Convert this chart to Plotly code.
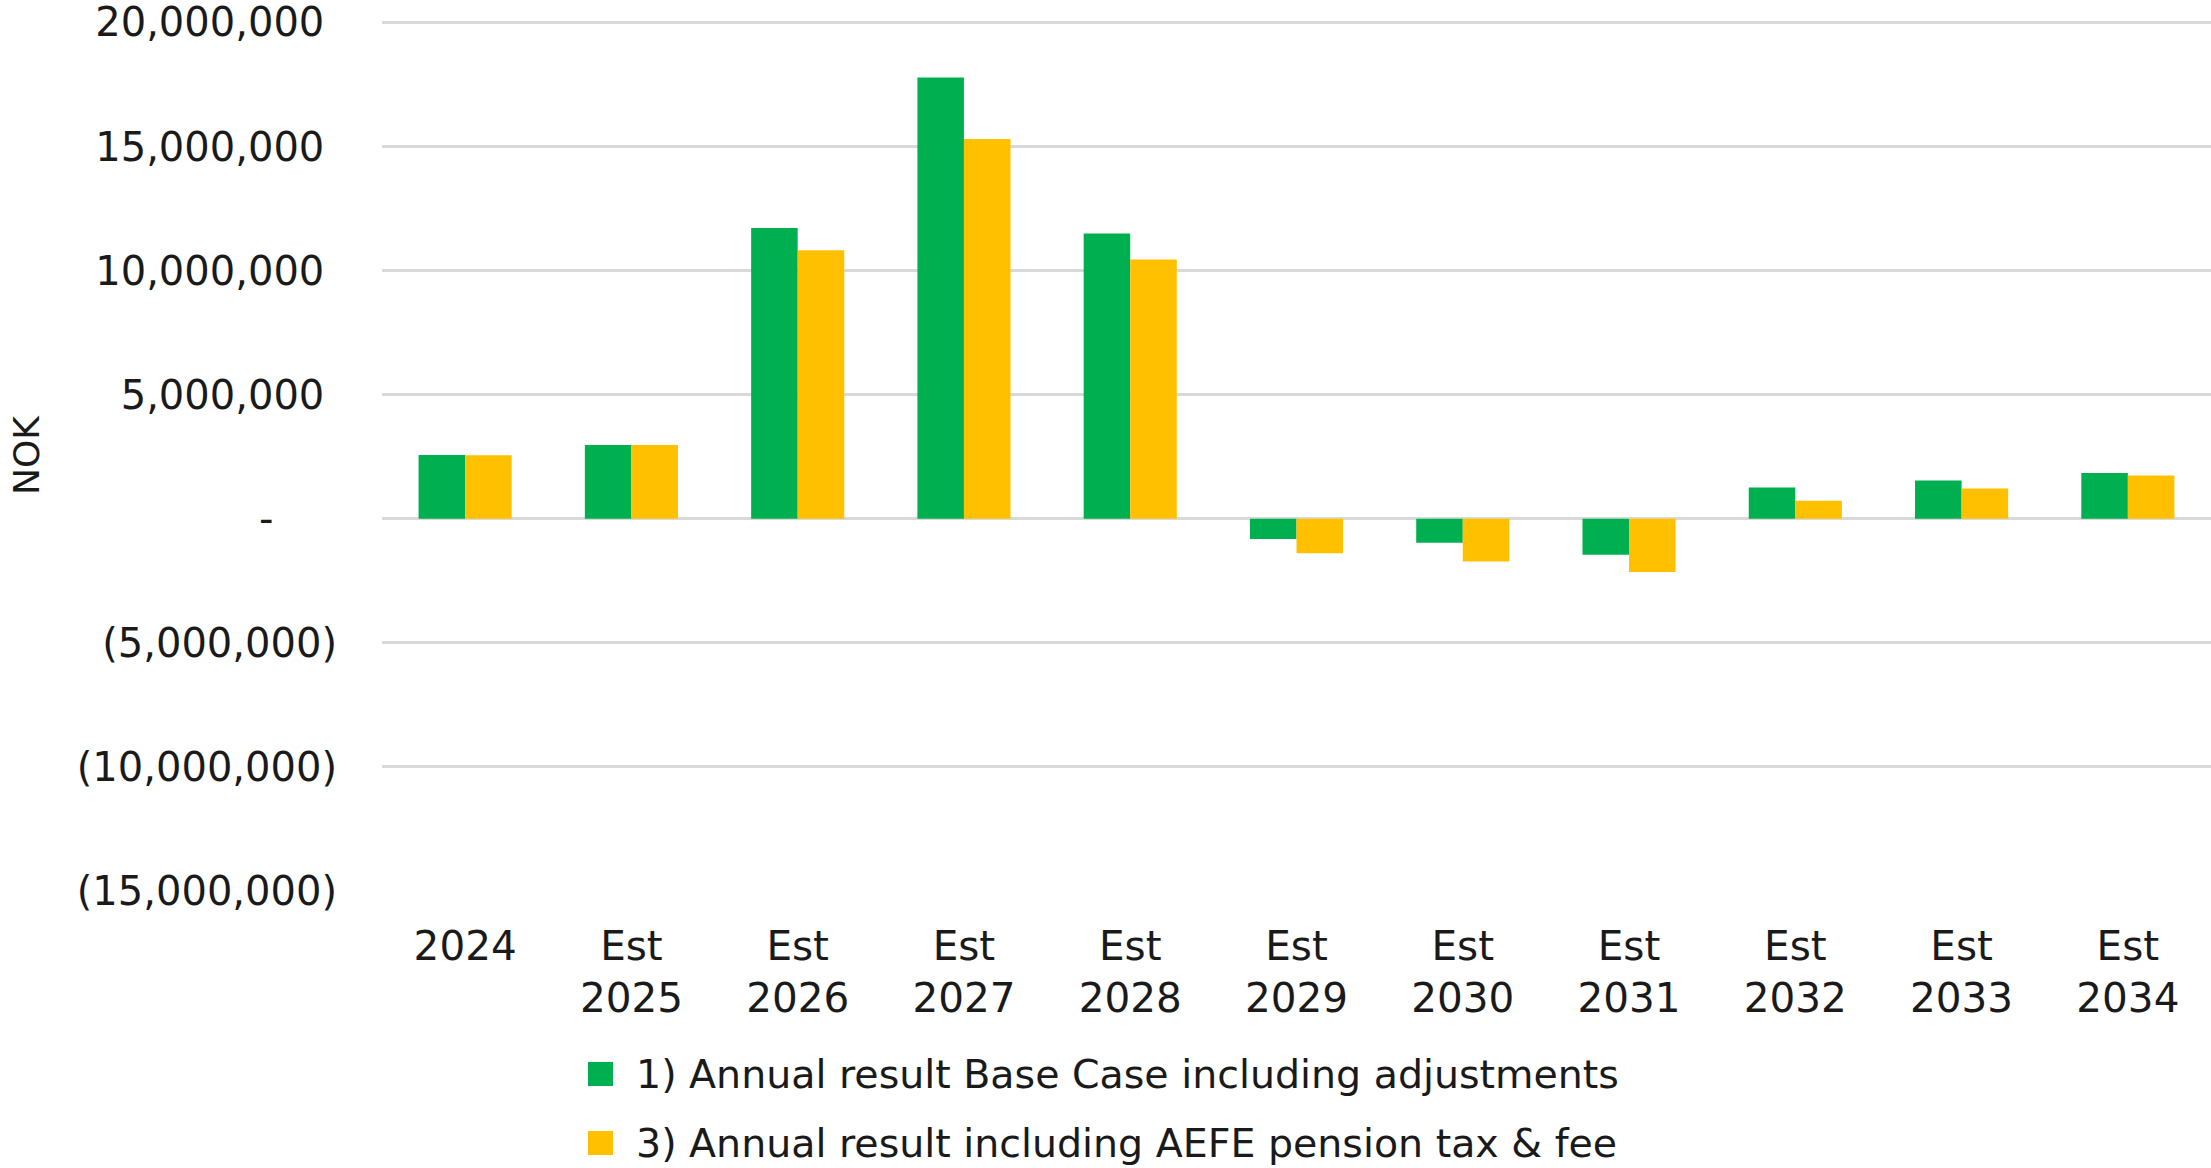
import plotly.graph_objects as go

categories = ["2024", "Est<br>2025", "Est<br>2026", "Est<br>2027", "Est<br>2028", "Est<br>2029",
              "Est<br>2030", "Est<br>2031", "Est<br>2032", "Est<br>2033", "Est<br>2034"]
series_names = ["1) Annual result Base Case including adjustments",
                "3) Annual result including AEFE pension tax & fee"]
base_case = [2570000, 2970000, 11720000, 17780000, 11500000, -810000, -970000, -1450000,
             1260000, 1540000, 1840000]
aefe_case = [2560000, 2970000, 10820000, 15300000, 10450000, -1390000, -1720000, -2140000,
             730000, 1220000, 1740000]
ytick_vals = [-15000000, -10000000, -5000000, 0, 5000000, 10000000, 15000000, 20000000]
ytick_text = ["(15,000,000)", "(10,000,000)", "(5,000,000)", "-\u2007\u2007\u2008",
              "5,000,000\u2008", "10,000,000\u2008", "15,000,000\u2008", "20,000,000\u2008"]

colors = ["#00B050", "#FFC000"]
FONT = "DejaVu Sans"
TXT = "#1a1a1a"

fig = go.Figure()
fig.add_trace(go.Bar(x=categories, y=base_case, name=series_names[0],
                     marker=dict(color=colors[0], line=dict(width=0)), showlegend=False))
fig.add_trace(go.Bar(x=categories, y=aefe_case, name=series_names[1],
                     marker=dict(color=colors[1], line=dict(width=0)), showlegend=False))

W, H = 2211, 1168
L, R, T, B = 382, 0, 20, 277
pw, ph = W - L - R, H - T - B

def px_x(x):
    return (x - L) / pw

def px_y(y):
    return (H - B - y) / ph

# manual legend
legend_rows = [1074, 1143]
for i, (name, c) in enumerate(zip(series_names, colors)):
    yc = legend_rows[i]
    fig.add_shape(type="rect", xref="paper", yref="paper",
                  x0=px_x(588), x1=px_x(613), y0=px_y(yc + 12), y1=px_y(yc - 12),
                  fillcolor=c, line=dict(width=0))
    fig.add_annotation(xref="paper", yref="paper", x=px_x(634), y=px_y(yc),
                       xanchor="left", yanchor="middle", showarrow=False, text=name,
                       font=dict(family=FONT, size=39.5, color=TXT))

fig.add_annotation(xref="paper", yref="paper", x=px_x(27), y=px_y(455), text="NOK",
                   textangle=-90, showarrow=False, xanchor="center", yanchor="middle",
                   font=dict(family=FONT, size=36, color=TXT))

fig.update_layout(
    width=W, height=H,
    margin=dict(l=L, r=R, t=T, b=B, pad=0),
    paper_bgcolor="white", plot_bgcolor="white",
    barmode="group", bargap=0.44, bargroupgap=0,
    font=dict(family=FONT, size=40, color=TXT),
    xaxis=dict(showgrid=False, showline=False, ticks="", tickfont=dict(size=40.5, color=TXT),
               ticklabelstandoff=27),
    yaxis=dict(range=[-15000000, 20100000], tickvals=ytick_vals, ticktext=ytick_text,
               showgrid=True, gridcolor="#d9d9d9", gridwidth=2.5,
               zeroline=True, zerolinecolor="#d9d9d9", zerolinewidth=2.5,
               showline=False, ticks="", tickfont=dict(size=40, color=TXT),
               ticklabelstandoff=44, ticklabeloverflow="allow"),
)

fig.write_html(
    "out.html",
    config={"displayModeBar": False},
    post_script="document.body.style.margin='0';document.body.style.overflow='hidden';",
)
